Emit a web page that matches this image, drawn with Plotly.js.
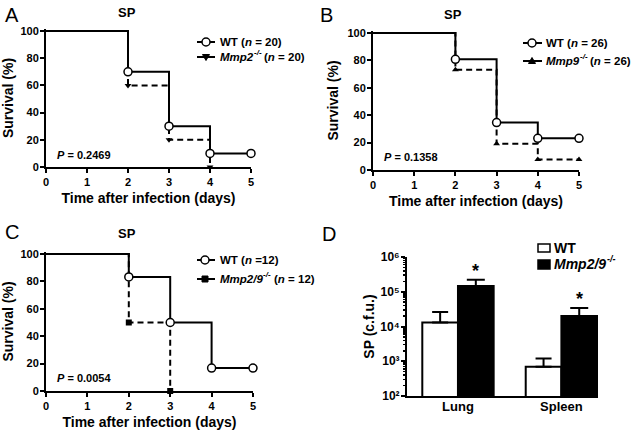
<!DOCTYPE html>
<html><head><meta charset="utf-8">
<script src="https://cdn.plot.ly/plotly-3.0.1.min.js"></script>
<style>html,body{margin:0;padding:0;background:#fff}#c{width:635px;height:434px}</style>
</head><body><div id="c"></div>
<script>
// ---- data ----
const dayTicks = [0, 1, 2, 3, 4, 5];
const survTicks = [0, 20, 40, 60, 80, 100];
const tA_wt = [0, 2, 3, 4, 5], sA_wt = [100, 70, 30, 10, 10];
const tA_ko = [0, 2, 3, 4],    sA_ko = [100, 60, 20, 0];
const tB_wt = [0, 2, 3, 4, 5], sB_wt = [100, 80.8, 34.6, 23.1, 23.1];
const tB_ko = [0, 2, 3, 4, 5], sB_ko = [100, 73.1, 19.2, 7.7, 7.7];
const tC_wt = [0, 2, 3, 4, 5], sC_wt = [100, 83.3, 50, 16.7, 16.7];
const tC_ko = [0, 2, 3],       sC_ko = [100, 50, 0];
const organs = ['Lung', 'Spleen'];
const cfuWT = [1.3e4, 6.9e2], cfuWTtop = [2.6e4, 1.2e3];
const cfuKO = [1.46e5, 2.0e4], cfuKOtop = [2.2e5, 3.4e4];
const cfuTicks = [1e2, 1e3, 1e4, 1e5, 1e6];
const cfuTickText = ['10\u00B2', '10\u00B3', '10\u2074', '10\u2075', '10\u2076'];
const pValues = ['0.2469', '0.1358', '0.0054'];
const koNames = ['Mmp2', 'Mmp9', 'Mmp2/9'];
const wtLegend = ['WT (<i>n</i> = 20)', 'WT (<i>n</i> = 26)', 'WT (<i>n</i> =12)'];
const koN = ['20', '26', '12'];
const koSymbols = ['triangle-down', 'triangle-up', 'square'];

// ---- helpers ----
const W = 635, H = 434;
const FONT = 'Arial, "Liberation Sans", Helvetica, sans-serif';
const EXT = 2; // px of headroom above 100 % so the top step line is not clipped
const cv = document.createElement('canvas').getContext('2d');
function tw(text, size, italic) {
  cv.font = (italic ? 'italic ' : '') + 'bold ' + size + 'px Arial, "Liberation Sans", sans-serif';
  return cv.measureText(text).width;
}
// minor log ticks (2..9 in each decade)
const minorLog = [];
for (let d = 2; d < 6; d++) for (let m = 2; m <= 9; m++) minorLog.push(m * Math.pow(10, d));

// pixel boxes of the plot areas (left, right, top = 100 %, bottom = 0)
const boxes = {
  x:  {l: 46,  r: 251, t: 31,  b: 167},
  x2: {l: 373, r: 579, t: 33,  b: 170},
  x3: {l: 46,  r: 253, t: 254, b: 391},
  x4: {l: 407, r: 598, t: 257, b: 396}
};
const survTop = k => { const B = boxes[k]; return 100 + EXT * 100 / (B.b - B.t); };
const domX = k => [boxes[k].l / W, boxes[k].r / W];
const domY = (k, ext) => [1 - boxes[k].b / H, 1 - (boxes[k].t - ext) / H];

const panels = [
  {t_wt: tA_wt, s_wt: sA_wt, t_ko: tA_ko, s_ko: sA_ko, xa: 'x', ya: 'y'},
  {t_wt: tB_wt, s_wt: sB_wt, t_ko: tB_ko, s_ko: sB_ko, xa: 'x2', ya: 'y2'},
  {t_wt: tC_wt, s_wt: sC_wt, t_ko: tC_ko, s_ko: sC_ko, xa: 'x3', ya: 'y3'}
];

const traces = [];
panels.forEach((p, i) => {
  traces.push({type: 'scatter', mode: 'lines', x: p.t_ko, y: p.s_ko, xaxis: p.xa, yaxis: p.ya,
    line: {shape: 'hv', color: '#000', width: 2, dash: '6px,4px'}, cliponaxis: false, showlegend: false, hoverinfo: 'skip'});
  traces.push({type: 'scatter', mode: 'lines', x: p.t_wt, y: p.s_wt, xaxis: p.xa, yaxis: p.ya,
    line: {shape: 'hv', color: '#000', width: 2}, cliponaxis: false, showlegend: false, hoverinfo: 'skip'});
  traces.push({type: 'scatter', mode: 'markers', x: p.t_ko.slice(1), y: p.s_ko.slice(1), xaxis: p.xa, yaxis: p.ya,
    marker: {symbol: koSymbols[i], size: 6, color: '#000'}, cliponaxis: false, showlegend: false});
  traces.push({type: 'scatter', mode: 'markers', x: p.t_wt.slice(1), y: p.s_wt.slice(1), xaxis: p.xa, yaxis: p.ya,
    marker: {symbol: 'circle', size: 8, color: '#fff', line: {color: '#000', width: 1.5}}, cliponaxis: false, showlegend: false});
});

traces.push({type: 'bar', name: 'WT', x: organs, y: cfuWT, xaxis: 'x4', yaxis: 'y4',
  marker: {color: '#fff', line: {color: '#000', width: 2}},
  error_y: {type: 'data', symmetric: false, array: cfuWTtop.map((v, i) => v - cfuWT[i]), arrayminus: cfuWT.map(() => 0),
    color: '#000', thickness: 2, width: 8}, showlegend: false});
traces.push({type: 'bar', name: 'Mmp2/9', x: organs, y: cfuKO, xaxis: 'x4', yaxis: 'y4',
  marker: {color: '#000', line: {color: '#000', width: 2}},
  error_y: {type: 'data', symmetric: false, array: cfuKOtop.map((v, i) => v - cfuKO[i]), arrayminus: cfuKO.map(() => 0),
    color: '#000', thickness: 2, width: 9}, showlegend: false});

const tickFont = {family: FONT, size: 11, color: '#000', weight: 'bold'};
const titleFont = {family: FONT, size: 14, color: '#000', weight: 'bold'};
const baseAxis = {showgrid: false, zeroline: false, showline: true, linecolor: '#000', linewidth: 2,
  ticks: 'outside', tickwidth: 2, ticklen: 4, tickcolor: '#000', tickfont: tickFont, fixedrange: true};

function xSurv(k, anchor) {
  return Object.assign({}, baseAxis, {domain: domX(k), anchor: anchor, range: [0, 5], tickvals: dayTicks,
    title: {text: 'Time after infection (days)', font: titleFont, standoff: 6}});
}
function ySurv(k, anchor) {
  return Object.assign({}, baseAxis, {domain: domY(k, EXT), anchor: anchor, range: [0, survTop(k)], tickvals: survTicks,
    ticklabelstandoff: -1, title: {text: 'Survival (%)', font: titleFont, standoff: 6}});
}

const annotations = [];
const shapes = [];
function rel(k, x, y, ext) {
  const B = boxes[k], top = B.t - (ext || 0);
  return {x: (x - B.l) / (B.r - B.l), y: (B.b - y) / (B.b - top)};
}
const yOf = {x: 'y', x2: 'y2', x3: 'y3', x4: 'y4'};
const extOf = k => (k === 'x4' ? 0 : EXT);
function txt(k, x, y, text, size, opts) {
  const r = rel(k, x, y, extOf(k));
  annotations.push(Object.assign({xref: k + ' domain', yref: yOf[k] + ' domain', x: r.x, y: r.y, text: text, showarrow: false,
    xanchor: 'left', yanchor: 'middle', borderpad: 0, font: {family: FONT, size: size, color: '#000', weight: 'bold'}}, opts || {}));
}
// knockout label with a raised "-/-" written as its own smaller text
function koLabel(k, x, y, name, size, supSize, rest) {
  txt(k, x, y, '<i>' + name + '</i>', size);
  const w1 = tw(name, size, true);
  txt(k, x + w1 + 0.5, y, '<i>-/-</i>', supSize, {yshift: size * 0.38});
  if (rest) txt(k, x + w1 + tw('-/-', supSize, true) + 3.5, y, rest, size);
}
// panel letters
[['A', 'x', 4, 15], ['B', 'x2', 319, 15], ['C', 'x3', 4, 232], ['D', 'x4', 321, 234]].forEach(l =>
  txt(l[1], l[2], l[3], l[0], 20, {font: {family: FONT, size: 20, color: '#000', weight: 'normal'}}));
// SP titles
[['x', 126.7, 13], ['x2', 453.3, 15], ['x3', 126.7, 233]].forEach(t => txt(t[0], t[1], t[2], 'SP', 13, {xanchor: 'center'}));
// P values
[['x', 56, 155], ['x2', 383, 157], ['x3', 56, 378]].forEach((t, i) => txt(t[0], t[1], t[2], '<i>P</i> = ' + pValues[i], 11));

// legends for survival panels
const legPos = [
  {k: 'x',  x0: 197, x1: 215, xm: 206, yWT: 42,  yKO: 57,  xt: 219},
  {k: 'x2', x0: 523, x1: 542, xm: 532, yWT: 43,  yKO: 61,  xt: 545},
  {k: 'x3', x0: 197, x1: 215, xm: 205, yWT: 260, yKO: 279, xt: 219}
];
const koPaths = ['M-3.5,2.5L3.5,2.5L0,-3.5Z', 'M-3.5,-2.5L3.5,-2.5L0,3.5Z', 'M-3,-3L3,-3L3,3L-3,3Z'];
function seg(k, x0, x1, y) {
  const a = rel(k, x0, y, extOf(k)), b = rel(k, x1, y, extOf(k));
  shapes.push({type: 'line', xref: k + ' domain', yref: yOf[k] + ' domain', x0: a.x, x1: b.x, y0: a.y, y1: b.y, line: {color: '#000', width: 2}});
}
function glyph(k, x, y, extra) {
  const a = rel(k, x, y, extOf(k));
  shapes.push(Object.assign({xref: k + ' domain', yref: yOf[k] + ' domain', xsizemode: 'pixel', ysizemode: 'pixel',
    xanchor: a.x, yanchor: a.y}, extra));
}
legPos.forEach((L, i) => {
  seg(L.k, L.x0, L.x1, L.yWT);
  glyph(L.k, L.xm, L.yWT, {type: 'circle', x0: -4, x1: 4, y0: -4, y1: 4, fillcolor: '#fff', line: {color: '#000', width: 1.5}});
  seg(L.k, L.x0, L.x1, L.yKO);
  glyph(L.k, L.xm, L.yKO, {type: 'path', path: koPaths[i], fillcolor: '#000', line: {color: '#000', width: 1}});
  txt(L.k, L.xt, L.yWT, wtLegend[i], 11.5);
  koLabel(L.k, L.xt, L.yKO, koNames[i], 11.5, 8, '(<i>n</i> = ' + koN[i] + ')');
});
// legend D
function box(k, x0, x1, y0, y1, fill) {
  const a = rel(k, x0, y0, 0), b = rel(k, x1, y1, 0);
  shapes.push({type: 'rect', xref: k + ' domain', yref: yOf[k] + ' domain', x0: a.x, x1: b.x, y0: a.y, y1: b.y,
    fillcolor: fill, line: {color: '#000', width: 1.5}});
}
box('x4', 538, 550, 244, 252, '#fff');
box('x4', 538, 550, 260, 269, '#000');
txt('x4', 553, 248, 'WT', 14);
koLabel('x4', 553, 264, 'Mmp2/9', 14, 9, null);
// significance stars above knockout bars
cfuKOtop.forEach((v, i) => annotations.push({xref: 'x4', yref: 'y4', x: i + 0.1725, y: Math.log10(v), text: '*',
  showarrow: false, yanchor: 'bottom', yshift: -3, font: {family: FONT, size: 18, color: '#000', weight: 'bold'}}));

const layout = {
  width: W, height: H, margin: {l: 0, r: 0, t: 0, b: 0}, paper_bgcolor: '#fff', plot_bgcolor: 'rgba(0,0,0,0)',
  showlegend: false, barmode: 'group', bargap: 0.31, bargroupgap: 0,
  xaxis: xSurv('x', 'y'),   yaxis: ySurv('x', 'x'),
  xaxis2: xSurv('x2', 'y2'), yaxis2: ySurv('x2', 'x2'),
  xaxis3: xSurv('x3', 'y3'), yaxis3: ySurv('x3', 'x3'),
  xaxis4: Object.assign({}, baseAxis, {domain: domX('x4'), anchor: 'y4', type: 'category',
    range: [-0.493, 1.354], ticks: '', ticklabelstandoff: -3, tickfont: {family: FONT, size: 13, color: '#000', weight: 'bold'}}),
  yaxis4: Object.assign({}, baseAxis, {domain: domY('x4', 0), anchor: 'x4', type: 'log', range: [2, 6],
    tickvals: cfuTicks, ticktext: cfuTickText, ticklabelstandoff: -1,
    tickfont: {family: FONT, size: 12, color: '#000', weight: 'bold'},
    minor: {tickmode: 'array', tickvals: minorLog, ticks: 'outside', ticklen: 2.5, tickwidth: 1.5, tickcolor: '#000', showgrid: false},
    title: {text: 'SP (c.f.u.)', font: titleFont, standoff: 2}}),
  annotations: annotations, shapes: shapes
};
Plotly.newPlot('c', traces, layout, {staticPlot: true, displayModeBar: false});
</script></body></html>
